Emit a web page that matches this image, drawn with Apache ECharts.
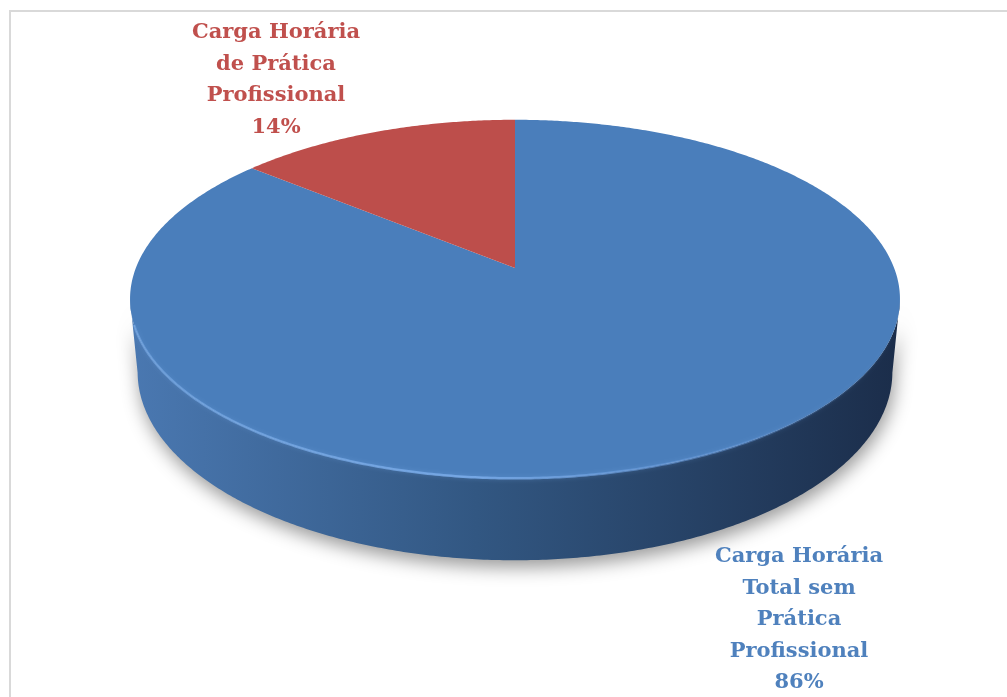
<!DOCTYPE html>
<html>
<head>
<meta charset="utf-8">
<script src="https://cdn.jsdelivr.net/npm/echarts@6/dist/echarts.min.js"></script>
<style>html,body{margin:0;padding:0;background:#fff;}#c{width:1007px;height:697px;}</style>
</head>
<body>
<div id="c"></div>
<script>
// ---- data ----
const categories = ['Carga Horária\nTotal sem\nPrática\nProfissional', 'Carga Horária\nde Prática\nProfissional'];
const values = [86, 14];
const topColors = ['#4a7ebb', '#bd4e4b'];
const labelColors = ['#4f81bd', '#c0504d'];

// ---- layout (3D projection of a tilted disk) ----
const P = { cx: 515, cy: 268, f: 1945, e: 27.3 * Math.PI / 180, D: 5.13, h: 0.218 };
const labelPos = [[799, 541], [276, 17]];

function proj(thetaDeg, r, Y) {
  const t = thetaDeg * Math.PI / 180;
  const X = r * Math.sin(t), Z = r * Math.cos(t);
  const s = Math.sin(P.e), c = Math.cos(P.e);
  const yc = Z * s + Y * c, zc = Z * c - Y * s + P.D;
  return [P.cx + P.f * X / zc, P.cy - P.f * yc / zc];
}
const total = values.reduce((a, b) => a + b, 0);
const starts = [];
{ let acc = 0; values.forEach(v => { starts.push(acc / total * 360); acc += v; }); }

// silhouette angles of the wall
let thR = 0, thL = 0, maxX = -1e9, minX = 1e9;
for (let t = 0; t < 360; t += 0.25) {
  const p = proj(t, 1, 0);
  if (p[0] > maxX) { maxX = p[0]; thR = t; }
  if (p[0] < minX) { minX = p[0]; thL = t; }
}

function arc(a, b, Y) {
  const pts = [];
  const n = Math.max(2, Math.ceil(Math.abs(b - a) / 0.5));
  for (let i = 0; i <= n; i++) pts.push(proj(a + (b - a) * i / n, 1, Y));
  return pts;
}

const chart = echarts.init(document.getElementById('c'), null, { renderer: 'canvas' });
const seriesData = values.map((v, i) => ({ name: categories[i], value: v }));

chart.setOption({
  animation: false,
  graphic: [{
    type: 'rect', z: 0,
    shape: { x: 10, y: 11, width: 1100, height: 800 },
    style: { fill: 'none', stroke: '#d9d9d9', lineWidth: 2 }
  }],
  series: [
    {
      type: 'custom', coordinateSystem: 'none', z: 1,
      data: seriesData,
      renderItem: function (params, api) {
        const i = params.dataIndex;
        const a = starts[i], b = a + api.value(0) / total * 360;
        const lo = Math.max(a, thR), hi = Math.min(b, thL);
        if (!(lo < hi)) return { type: 'group', children: [] };
        const top = arc(lo, hi, 0);
        const bot = arc(hi, lo, -P.h);
        const dark = i === 0
          ? [{ offset: 0, color: '#4a78b1' }, { offset: 0.45, color: '#325782' }, { offset: 1, color: '#1b2d4a' }]
          : [{ offset: 0, color: '#b04744' }, { offset: 1, color: '#5e2423' }];
        return {
          type: 'group',
          children: [{
            type: 'polygon',
            shape: { points: top.concat(bot) },
            style: {
              fill: new echarts.graphic.LinearGradient(0, 0, 1, 0, dark),
              shadowBlur: 18, shadowOffsetY: 7, shadowOffsetX: 2, shadowColor: 'rgba(0,0,0,0.4)'
            }
          }]
        };
      }
    },
    {
      type: 'custom', coordinateSystem: 'none', z: 2,
      data: seriesData,
      renderItem: function (params, api) {
        const i = params.dataIndex;
        const a = starts[i], b = a + api.value(0) / total * 360;
        const c0 = proj(0, 0, 0);
        const pts = [c0].concat(arc(a, b, 0));
        const children = [{
          type: 'polygon',
          shape: { points: pts },
          style: { fill: topColors[i] }
        }];
        const lo = Math.max(a, thR + 12), hi = Math.min(b, thL - 8);
        if (lo < hi) {
          children.push({
            type: 'polyline',
            shape: { points: arc(lo, hi, 0) },
            style: {
              fill: 'none', lineWidth: 2.5,
              stroke: new echarts.graphic.LinearGradient(0, 0, 1, 0, [
                { offset: 0, color: 'rgba(120,170,230,0.6)' },
                { offset: 0.45, color: 'rgba(120,170,232,0.9)' },
                { offset: 0.8, color: 'rgba(100,150,215,0.5)' },
                { offset: 1, color: 'rgba(60,100,150,0.1)' }
              ]),
              shadowBlur: 4, shadowColor: 'rgba(120,170,230,0.4)'
            }
          });
        }
        const pct = Math.round(api.value(0) / total * 100) + '%';
        children.push({
          type: 'text',
          x: labelPos[i][0], y: labelPos[i][1],
          style: {
            text: categories[i] + '\n' + pct,
            fill: labelColors[i],
            fontFamily: 'DejaVu Serif', fontWeight: 'bold', fontSize: 21,
            lineHeight: 31.5, align: 'center', verticalAlign: 'top'
          }
        });
        return { type: 'group', children: children };
      }
    }
  ]
});
</script>
</body>
</html>
